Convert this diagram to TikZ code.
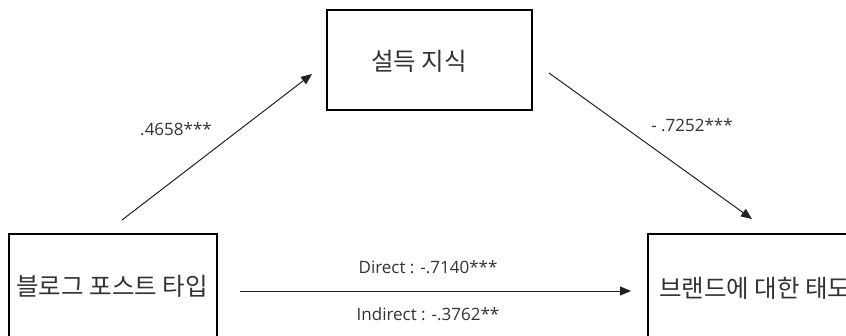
\documentclass[tikz,border=0pt]{standalone}
\usepackage{fontspec}
\setmainfont{Noto Sans CJK KR}
\newfontfamily\latinfont{Open Sans}
\usetikzlibrary{arrows.meta}
\definecolor{txt}{HTML}{333333}
\definecolor{ln}{HTML}{222222}
\tikzset{
  varbox/.style={draw=black, line width=1.8pt, fill=white, inner sep=0pt},
  vartext/.style={text=txt, font=\fontsize{24.5}{28}\selectfont, inner sep=0pt},
  coef/.style={text=txt, font=\latinfont\fontsize{17}{20}\selectfont, inner sep=0pt},
  path/.style={draw=ln, line width=1pt, -{Triangle[length=11pt,width=9pt]}}
}
\begin{document}
\begin{tikzpicture}[x=1pt,y=-1pt]
\useasboundingbox (0,0) rectangle (846,335);
\clip (0,0) rectangle (846,335);
\fill[white] (0,0) rectangle (846,335);
% boxes
\draw[varbox] (327,10) rectangle (532,110);
\node[vartext] (med) at (419,61) {설득 지식};
\draw[varbox] (9,234) rectangle (217,340);
\node[vartext] (iv) at (112,286) {블로그 포스트 타입};
\draw[varbox] (648,234) rectangle (900,340);
\node[vartext, anchor=west] (dv) at (659,288) {브랜드에 대한 태도};
% connector end points
\coordinate (a1s) at (122,220);
\coordinate (a1e) at (312,74);
\coordinate (a2s) at (549,73);
\coordinate (a2e) at (752,219);
\coordinate (a3s) at (240,291);
\coordinate (a3e) at (631,291);
\draw[path] (a1s) -- (a1e);
\draw[path] (a2s) -- (a2e);
\draw[path] (a3s) -- (a3e);
% labels
\node[coef] (l1) at (176,129) {.4658***};
\node[coef] (l2) at (692,125) {- .7252***};
\node[coef] (l3) at (428,267) {Direct : -.7140***};
\node[coef] (l4) at (428,314) {Indirect : -.3762**};
\end{tikzpicture}
\end{document}
